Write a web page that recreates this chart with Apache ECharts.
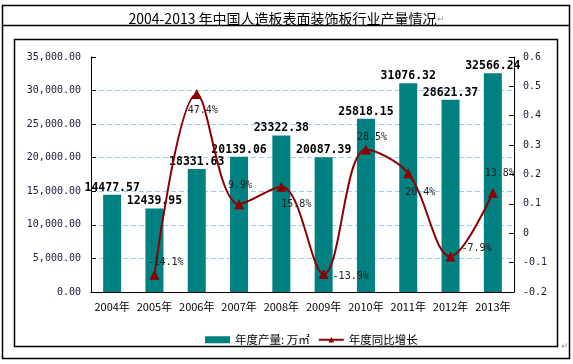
<!DOCTYPE html>
<html>
<head>
<meta charset="utf-8">
<script src="https://cdn.jsdelivr.net/npm/echarts@6/dist/echarts.min.js"></script>
<style>
html,body{margin:0;padding:0;background:#fff;}
#c{width:573px;height:364px;}
</style>
</head>
<body>
<div id="c"></div>
<script>
var categories = ['2004年','2005年','2006年','2007年','2008年','2009年','2010年','2011年','2012年','2013年'];
var output = [14477.57, 12439.95, 18331.63, 20139.06, 23322.38, 20087.39, 25818.15, 31076.32, 28621.37, 32566.24];
var growth = [null, -0.141, 0.474, 0.099, 0.158, -0.139, 0.285, 0.204, -0.079, 0.138];
var leftTicks = [0, 35000, 5000];
var rightTicks = [-0.2, 0.6, 0.1];
var seriesNames = ['年度产量: 万㎡', '年度同比增长'];
var titleText = '2004-2013 年中国人造板表面装饰板行业产量情况';

// label offsets for growth labels (layout only)
var growthOffsets = [[0,0],[11,-12],[6,16],[1,-19],[15,18],[27,2],[6,-12],[12,19],[26,-8],[7,-19]];

var mono = 'DejaVu Sans Mono';
var cjk = 'Noto Sans CJK SC';

function fmtThousands(v){
  return v.toFixed(2).replace(/\B(?=(\d{3})+(?!\d))/g, ',');
}

var lineData = growth.map(function(v, i){
  if (v === null) return '-';
  return {value: v, label: {offset: growthOffsets[i]}};
});

var chart = echarts.init(document.getElementById('c'), null, {renderer: 'canvas'});
chart.setOption({
  animation: false,
  backgroundColor: '#fff',
  title: {
    text: titleText + '{p|↵}',
    left: 'center',
    top: 7,
    textStyle: {
      fontFamily: cjk, fontSize: 14, fontWeight: 'normal', color: '#000',
      rich: {p: {fontSize: 9, color: '#999', fontFamily: cjk}}
    }
  },
  graphic: [
    {type: 'rect', z: -1, shape: {x: 2.5, y: 5.5, width: 567, height: 353}, style: {fill: 'none', stroke: '#000', lineWidth: 1.5}},
    {type: 'line', z: -1, shape: {x1: 2.5, y1: 25.5, x2: 569.5, y2: 25.5}, style: {stroke: '#000', lineWidth: 1.5}},
    {type: 'rect', z: -1, shape: {x: 14.5, y: 39.5, width: 543, height: 307}, style: {fill: 'none', stroke: '#000', lineWidth: 1.5}},
    {type: 'text', left: 561, top: 341, style: {text: '↵', fontSize: 9, fill: '#999', fontFamily: cjk}}
  ],
  grid: {left: 91, right: 59, top: 57, bottom: 72},
  legend: {
    left: 200, top: 329,
    itemGap: 8,
    itemWidth: 25, itemHeight: 7,
    textStyle: {fontFamily: cjk, fontSize: 11.5, color: '#000'},
    data: [{name: seriesNames[0], icon: 'rect'}, {name: seriesNames[1]}]
  },
  xAxis: {
    type: 'category',
    data: categories,
    axisLine: {lineStyle: {color: '#000', width: 1}},
    axisTick: {inside: true, length: 5, lineStyle: {color: '#000'}},
    axisLabel: {interval: 0, fontFamily: cjk, fontSize: 11, color: '#000', margin: 9}
  },
  yAxis: [
    {
      type: 'value', min: leftTicks[0], max: leftTicks[1], interval: leftTicks[2],
      axisLine: {show: true, lineStyle: {color: '#000', width: 1}},
      axisTick: {show: true, inside: true, length: 5, lineStyle: {color: '#000'}},
      axisLabel: {fontFamily: mono, fontSize: 10, color: '#1a1a3a', margin: 10, formatter: fmtThousands},
      splitLine: {show: true, showMaxLine: false, showMinLine: false, lineStyle: {color: '#99ccff', type: [5, 3], width: 1}}
    },
    {
      type: 'value', min: rightTicks[0], max: rightTicks[1], interval: rightTicks[2],
      position: 'right',
      axisLine: {show: true, lineStyle: {color: '#000', width: 1}},
      axisTick: {show: true, inside: true, length: 5, lineStyle: {color: '#000'}},
      axisLabel: {fontFamily: mono, fontSize: 10, color: '#1a1a3a', margin: 9,
        formatter: function(v){ return (Math.round(v*10)/10).toString(); }},
      splitLine: {show: false}
    }
  ],
  series: [
    {
      name: seriesNames[0],
      type: 'bar',
      data: output,
      barWidth: 18,
      itemStyle: {color: '#008080'},
      label: {
        show: true, position: 'top', distance: 1,
        fontFamily: mono, fontSize: 11.5, fontWeight: 'bold', color: '#000',
        formatter: function(p){ return p.value.toFixed(2); }
      }
    },
    {
      name: seriesNames[1],
      type: 'line',
      yAxisIndex: 1,
      data: lineData,
      smooth: 0.35,
      symbol: 'triangle',
      symbolSize: 10,
      lineStyle: {color: '#8b0000', width: 2},
      itemStyle: {color: '#8b0000'},
      label: {
        show: true, position: 'inside',
        fontFamily: mono, fontSize: 10, color: '#222',
        formatter: function(p){ return (p.value*100).toFixed(1) + '%'; }
      },
      z: 3
    }
  ]
});
</script>
</body>
</html>
